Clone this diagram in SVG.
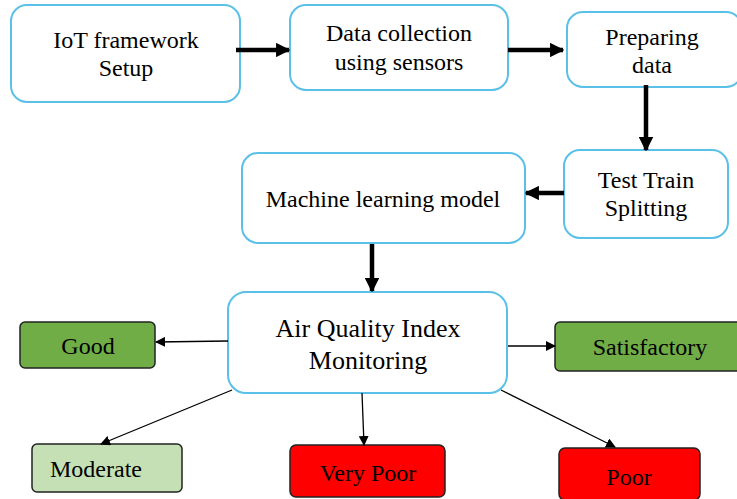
<svg xmlns="http://www.w3.org/2000/svg" width="737" height="499" viewBox="0 0 737 499">
<defs>
<marker id="ah" viewBox="0 0 10 10" refX="9" refY="5" markerWidth="3.2" markerHeight="3.2" orient="auto"><path d="M0,0 L10,5 L0,10 z" fill="#000"/></marker>
<marker id="ahs" viewBox="0 0 10 10" refX="9" refY="5" markerWidth="10" markerHeight="10" orient="auto" markerUnits="userSpaceOnUse"><path d="M0,0 L10,5 L0,10 z" fill="#000"/></marker>
</defs>
<style>
.step rect{fill:#fff;stroke:#5bc0e8;stroke-width:2}
.t{font-family:"Liberation Serif","Times New Roman",serif;font-size:24px;fill:#000;text-anchor:middle}
.thick{stroke:#000;stroke-width:4.5;fill:none;marker-end:url(#ah)}
.thin{stroke:#000;stroke-width:1.3;fill:none;marker-end:url(#ahs)}
.lvl rect{stroke:#222;stroke-width:1.5}
</style>
<rect width="737" height="499" fill="#fff"/>
<g id="n-iot" class="step"><rect x="11" y="5" width="229" height="97" rx="16"/><text class="t" x="126" y="48">IoT framework</text><text class="t" x="126" y="76">Setup</text></g>
<g id="n-collect" class="step"><rect x="290" y="5" width="218" height="85" rx="16"/><text class="t" x="399" y="41">Data collection</text><text class="t" x="399" y="70">using sensors</text></g>
<g id="n-prep" class="step"><rect x="567" y="12" width="175" height="75" rx="16"/><text class="t" x="652" y="45">Preparing</text><text class="t" x="652" y="73">data</text></g>
<g id="n-split" class="step"><rect x="564" y="150" width="164" height="88" rx="16"/><text class="t" x="646" y="188">Test Train</text><text class="t" x="646" y="216">Splitting</text></g>
<g id="n-ml" class="step"><rect x="242" y="153" width="283" height="90" rx="16"/><text class="t" x="383" y="207">Machine learning model</text></g>
<g id="n-aqi" class="step"><rect x="228" y="292" width="279" height="101" rx="18"/><text class="t" x="368" y="337" style="font-size:26px">Air Quality Index</text><text class="t" x="368" y="369" style="font-size:26px">Monitoring</text></g>
<g id="n-good" class="lvl"><rect x="20" y="322" width="135" height="46" rx="5" fill="#70ad47"/><text class="t" x="88" y="354">Good</text></g>
<g id="n-sat" class="lvl"><rect x="555" y="322" width="190" height="49" rx="5" fill="#70ad47"/><text class="t" x="650" y="355">Satisfactory</text></g>
<g id="n-mod" class="lvl"><rect x="32" y="444" width="150" height="48" rx="5" fill="#c5e0b4"/><text class="t" x="96" y="477">Moderate</text></g>
<g id="n-vpoor" class="lvl"><rect x="290" y="445" width="155" height="52" rx="6" fill="#ff0000"/><text class="t" x="368" y="481">Very Poor</text></g>
<g id="n-poor" class="lvl"><rect x="559" y="448" width="141" height="52" rx="6" fill="#ff0000"/><text class="t" x="629" y="485">Poor</text></g>
<g id="connectors">
<line class="thick" x1="236" y1="50" x2="289" y2="50"/>
<line class="thick" x1="508" y1="50" x2="563" y2="50"/>
<line class="thick" x1="646" y1="85" x2="646" y2="150"/>
<line class="thick" x1="564" y1="193" x2="526" y2="193"/>
<line class="thick" x1="372" y1="244" x2="372" y2="291"/>
<line class="thin" x1="228" y1="341" x2="156" y2="342"/>
<line class="thin" x1="508" y1="346" x2="555" y2="346"/>
<line class="thin" x1="232" y1="390" x2="101" y2="444"/>
<line class="thin" x1="362" y1="393" x2="364" y2="445"/>
<line class="thin" x1="501" y1="390" x2="615" y2="447"/>
</g>
</svg>
